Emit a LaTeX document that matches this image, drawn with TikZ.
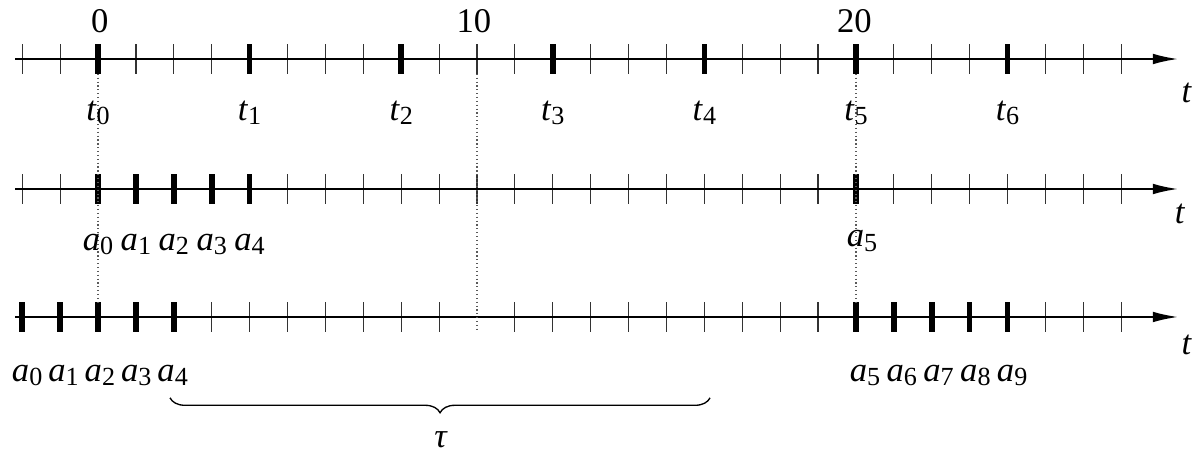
\documentclass[tikz,border=0pt]{standalone}
\usepackage{fontspec}
\setmainfont{Liberation Serif}
\usetikzlibrary{arrows.meta,positioning,decorations.pathreplacing}
\newcommand{\subl}[2]{\textit{#1}\raisebox{-1.6pt}{\fontsize{9.8}{10}\selectfont #2}}
\tikzset{
  axis/.style={-{Latex[length=9.5pt,width=4pt]},line width=0.75pt},
  thintick/.style={line width=0.45pt,black!80},
  thicktick/.style={line width=2.1pt},
  guide/.style={densely dotted,line width=0.45pt,black!65},
  lbl/.style={anchor=base,inner sep=0pt,font=\fontsize{13}{15}\selectfont},
  taubrace/.style={decorate,decoration={brace,mirror,amplitude=5.6pt},line width=0.5pt}
}

\begin{document}
\begin{tikzpicture}[x=0.5cm,y=0.5cm]
  \useasboundingbox (-2.586,-10.422) rectangle (29.077,1.557);
  % the three time axes
  \foreach \n/\y in {1/0,2/-3.43,3/-6.807} {
    \coordinate (s\n) at (-2.19,\y);
    \coordinate (e\n) at (28.5,\y);
  }
  % unit ticks
  \foreach \x in {-2,...,27} {
    \draw[thintick] (\x,-0.39) -- (\x,0.39);
    \draw[thintick] (\x,-3.82) -- (\x,-3.04);
  }
  \foreach \x in {-2,...,9,11,12,...,27}
    \draw[thintick] (\x,-7.197) -- (\x,-6.417);
  % marked instants
  \foreach \x in {0,4,...,24}
    \draw[thicktick] (\x,-0.39) -- (\x,0.39);
  \foreach \x in {0,1,2,3,4,20}
    \draw[thicktick] (\x,-3.82) -- (\x,-3.04);
  \foreach \x in {-2,...,2,20,21,...,24}
    \draw[thicktick] (\x,-7.197) -- (\x,-6.417);
  \foreach \n in {1,2,3}
    \draw[axis] (s\n) -- (e\n);
  % dotted guides
  \coordinate (g0a) at (0,-0.39);
  \coordinate (g0b) at (0,-6.417);
  \coordinate (g10a) at (10,-0.39);
  \coordinate (g10b) at (10,-7.197);
  \coordinate (g20a) at (20,-0.39);
  \coordinate (g20b) at (20,-6.417);
  \draw[guide] (g0a) -- (g0b);
  \draw[guide] (g10a) -- (g10b);
  \draw[guide] (g20a) -- (g20b);
  % scale numbers
  \node[lbl] (n0) at (0.05,0.69) {0};
  \node[lbl] (n10) at (9.92,0.69) {10};
  \node[lbl] (n20) at (19.96,0.69) {20};
  % labels
  \foreach \k in {0,...,6}
    \node[lbl] (t\k) at ({4*\k},-1.61) {\subl{t}{\k}};
  \node[lbl] (tx1) at (28.73,-1.16) {\textit{t}};
  \node[lbl] (tx2) at (28.55,-4.33) {\textit{t}};
  \node[lbl] (tx3) at (28.73,-7.81) {\textit{t}};
  \foreach \k in {0,...,4}
    \node[lbl] (b\k) at (\k,-5.04) {\subl{a}{\k}};
  \node[lbl] (b5) at (20.16,-4.96) {\subl{a}{5}};
  \foreach \k in {0,...,4}
    \node[lbl] (c\k) at ({0.96*\k-1.87},-8.51) {\subl{a}{\k}};
  \foreach \k in {5,...,9}
    \node[lbl] (c\k) at ({20.24+0.97*(\k-5)},-8.51) {\subl{a}{\k}};
  % interval tau
  \coordinate (bl) at (1.9,-8.94);
  \coordinate (br) at (16.15,-8.94);
  \draw[taubrace] (bl) -- (br);
  \node[lbl] (tau) at (9.05,-10.26) {\textit{τ}};
\end{tikzpicture}
\end{document}
